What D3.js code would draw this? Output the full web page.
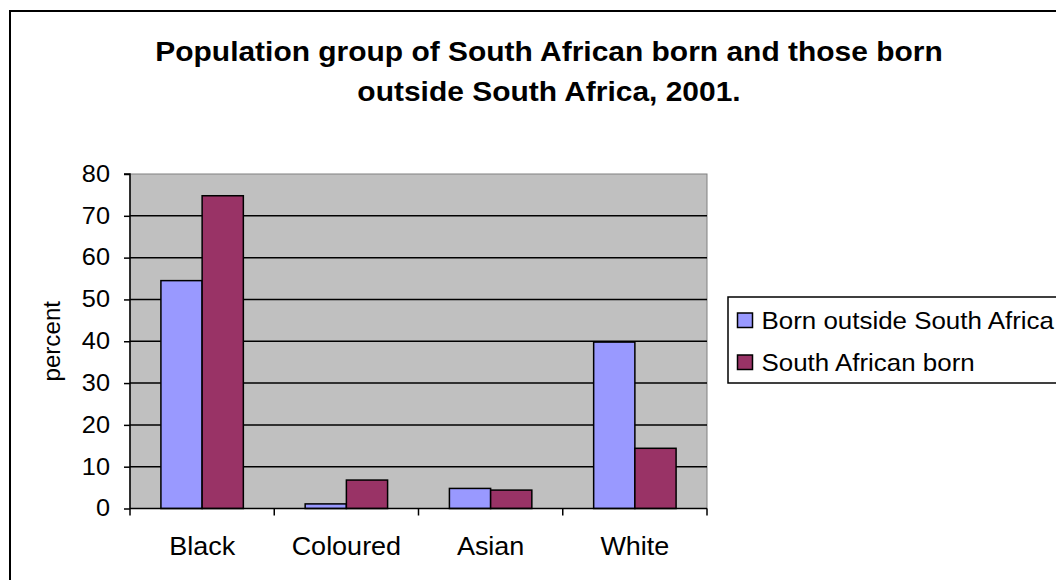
<!DOCTYPE html>
<html><head><meta charset="utf-8">
<script src="https://cdn.jsdelivr.net/npm/d3@7"></script>
<style>body{margin:0;background:#fff;} text{font-family:"Liberation Sans",Arial,sans-serif;fill:#000;}</style>
</head><body>
<svg id="c" width="1056" height="580"></svg>
<script>
const categories = ["Black", "Coloured", "Asian", "White"];
const seriesNames = ["Born outside South Africa", "South African born"];
const bornOutside = [54.5, 1.1, 4.8, 39.8];
const saBorn = [74.8, 6.8, 4.4, 14.4];
const yTicks = [0, 10, 20, 30, 40, 50, 60, 70, 80];
const colors = ["#9999FF", "#993366"];

const svg = d3.select("#c");
svg.append("rect").attr("x", 10).attr("y", 11).attr("width", 1080).attr("height", 600)
  .attr("fill", "#fff").attr("stroke", "#000").attr("stroke-width", 2);

const L = 130, R = 707, T = 174, B = 508.5;
const x = d3.scaleBand().domain(categories).range([L, R]).paddingInner(0).paddingOuter(0);
const y = d3.scaleLinear().domain([0, 80]).range([B, T]);
const bw = x.bandwidth() / 3.5;

svg.append("rect").attr("x", L).attr("y", T).attr("width", R - L).attr("height", B - T)
  .attr("fill", "#C0C0C0").attr("stroke", "#808080").attr("stroke-width", 1);

svg.append("g").selectAll("line").data(yTicks.filter(d => d > 0 && d < 80)).join("line")
  .attr("x1", L).attr("x2", R).attr("y1", d => y(d)).attr("y2", d => y(d))
  .attr("stroke", "#000").attr("stroke-width", 1.5);

const data = [bornOutside, saBorn];
data.forEach((vals, si) => {
  svg.append("g").selectAll("rect").data(vals).join("rect")
    .attr("x", (d, i) => x(categories[i]) + bw * 0.75 + si * bw)
    .attr("y", d => y(d)).attr("width", bw).attr("height", d => y(0) - y(d))
    .attr("fill", colors[si]).attr("stroke", "#000").attr("stroke-width", 1.5);
});

// y axis
const tsx = 1.1;
const ya = svg.append("g").attr("transform", `translate(${L},0)`)
  .call(d3.axisLeft(y).tickValues(yTicks).tickSize(6).tickPadding(12.2).tickFormat(d3.format("d")));
ya.attr("font-size", null).attr("font-family", null);
ya.select(".domain").attr("stroke", "#000").attr("stroke-width", 1.5).attr("d", `M-6,${T}H0V${B}`);
ya.selectAll(".tick line").attr("stroke", "#000").attr("stroke-width", 1.5);
ya.selectAll("text").attr("font-size", 23).attr("fill", "#000").attr("transform", `scale(${tsx},1)`);

// x axis
const xa = svg.append("g").attr("transform", `translate(0,${B})`)
  .call(d3.axisBottom(x).tickSize(0).tickPadding(29));
xa.attr("font-size", null).attr("font-family", null);
xa.select(".domain").attr("stroke", "#000").attr("stroke-width", 1.5).attr("d", `M${L},0H${R}`);
xa.selectAll("text").attr("font-size", 25).attr("fill", "#000").attr("transform", "scale(1.08,1)");
svg.append("g").selectAll("line").data(categories.concat(["end"])).join("line")
  .attr("x1", (d, i) => L + i * x.step()).attr("x2", (d, i) => L + i * x.step())
  .attr("y1", B).attr("y2", B + 7).attr("stroke", "#000").attr("stroke-width", 1.5);

// y label
svg.append("text").attr("transform", `translate(60,${(T + B) / 2}) rotate(-90) scale(1.05,1)`)
  .attr("text-anchor", "middle").attr("font-size", 23).text("percent");

// title
const titleLines = ["Population group of South African born and those born", "outside South Africa, 2001."];
titleLines.forEach((t, i) => {
  svg.append("text").attr("transform", `translate(549,${61 + i * 40}) scale(1.07,1)`)
    .attr("text-anchor", "middle").attr("font-size", 28).attr("font-weight", "bold").text(t);
});

// legend
const lg = svg.append("g");
lg.append("rect").attr("x", 728).attr("y", 297).attr("width", 400).attr("height", 86)
  .attr("fill", "#fff").attr("stroke", "#000").attr("stroke-width", 1.5);
seriesNames.forEach((n, i) => {
  lg.append("rect").attr("x", 737.5).attr("y", 313 + i * 42).attr("width", 15).attr("height", 14.5)
    .attr("fill", colors[i]).attr("stroke", "#000").attr("stroke-width", 1.5);
  lg.append("text").attr("transform", `translate(761.5,${329 + i * 41.5}) scale(1.08,1)`)
    .attr("font-size", 24).text(n);
});
</script>
</body></html>
